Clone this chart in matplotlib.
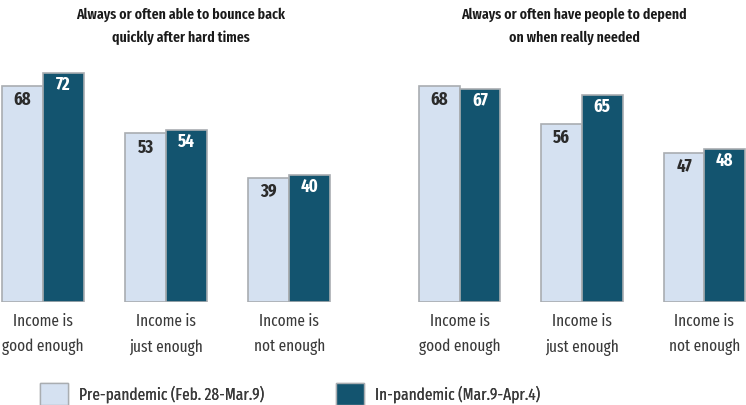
import numpy as np
import matplotlib
matplotlib.use('Agg')
import matplotlib.pyplot as plt
from matplotlib.patches import Patch

plt.rcParams['font.family'] = ['Fira Sans Extra Condensed', 'DejaVu Sans']

# Данные
groups = ['Income is\ngood enough', 'Income is\njust enough', 'Income is\nnot enough']
titles = ['Always or often able to bounce back\nquickly after hard times',
          'Always or often have people to depend\non when really needed']
pre_bounce = [68, 53, 39]
in_bounce = [72, 54, 40]
pre_depend = [68, 56, 47]
in_depend = [67, 65, 48]
legend_labels = ['Pre-pandemic (Feb. 28-Mar.9)', 'In-pandemic (Mar.9-Apr.4)']

light = '#D5E1F1'
dark = '#13546F'
edge = '#A9ADB1'
txt = '#3A3A3A'

W, H = 746, 405
fig = plt.figure(figsize=(W / 100, H / 100), dpi=100)

# позиции осей в пикселях
base_y = 302
top_y = 60
bottom = (H - base_y) / H
height = (base_y - top_y) / H
ax1 = fig.add_axes([0, bottom, 373 / W, height])
ax2 = fig.add_axes([373 / W, bottom, 373 / W, height])

x = np.arange(len(groups))
w = 0.333
ymax = (base_y - top_y) / 3.18

panels = [(ax1, pre_bounce, in_bounce, titles[0], (-0.35, 2.68), 181),
          (ax2, pre_depend, in_depend, titles[1], (-0.707, 2.34), 574)]

for ax, pre, inn, title, xl, tx in panels:
    b1 = ax.bar(x - w / 2, pre, w, color=light, edgecolor=edge, linewidth=1.2)
    b2 = ax.bar(x + w / 2, inn, w, color=dark, edgecolor=edge, linewidth=1.2)
    for rect, v in zip(b1, pre):
        ax.text(rect.get_x() + rect.get_width() / 2, v - 1.6, str(v),
                ha='center', va='top', fontsize=13, fontweight='bold', color='#2B2B2B')
    for rect, v in zip(b2, inn):
        ax.text(rect.get_x() + rect.get_width() / 2, v - 0.9, str(v),
                ha='center', va='top', fontsize=13, fontweight='bold', color='white')
    ax.set_xlim(*xl)
    ax.set_ylim(0, ymax)
    ax.set_xticks(x)
    ax.set_xticklabels(groups, fontsize=12, color=txt, linespacing=1.75)
    ax.tick_params(axis='x', length=0, pad=8)
    ax.set_yticks([])
    for s in ax.spines.values():
        s.set_visible(False)
    # заголовок панели
    fig.text(tx / W, 1 - 26 / H, title, ha='center', va='center', fontsize=10.8,
             fontweight='semibold', color='#1A1A1A', linespacing=1.75)

# легенда: два отдельных блока, чтобы поставить их как в оригинале
handles = [Patch(facecolor=light, edgecolor=edge), Patch(facecolor=dark, edgecolor=edge)]
for h, lab, x0 in zip(handles, legend_labels, [40, 336]):
    lg = fig.legend([h], [lab], loc='lower left', bbox_to_anchor=(x0 / W, 0),
                    frameon=False, handlelength=1.65, handleheight=1.65,
                    handletextpad=0.7, borderpad=0, borderaxespad=0, labelcolor=txt,
                    prop={'family': 'Fira Sans Extra Condensed', 'size': 12})
    fig.add_artist(lg)

fig.savefig('out.png', dpi=100)
